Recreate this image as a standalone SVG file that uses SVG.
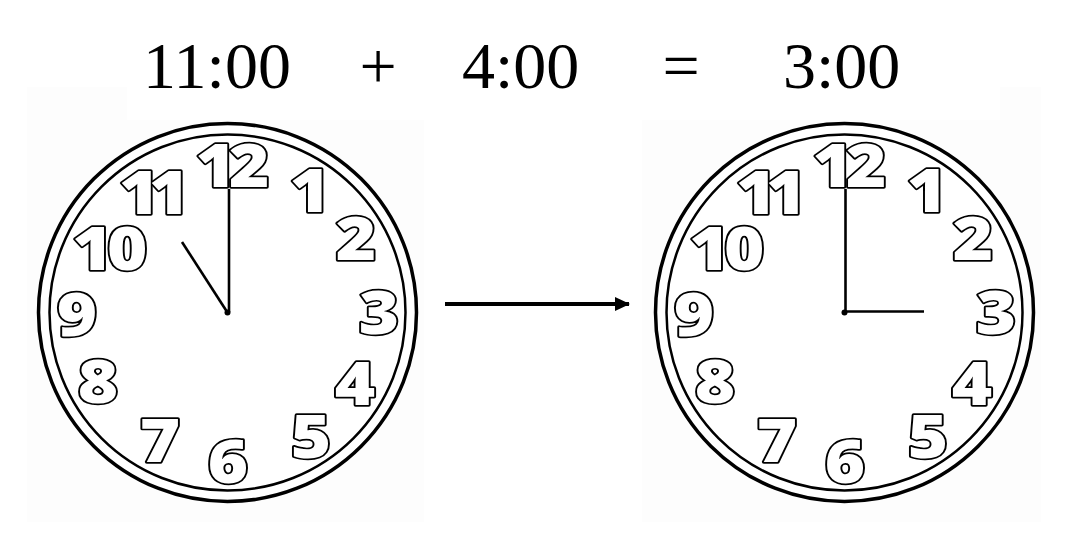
<svg xmlns="http://www.w3.org/2000/svg" width="1077" height="545" viewBox="0 0 1077 545">
<defs>
<style>
.title{font-family:"Liberation Serif","Times New Roman",serif;font-size:66px;fill:#000}
.num{font-family:"Open Sans",Lato,"DejaVu Sans",sans-serif;font-weight:800;font-size:60px;fill:#fff;stroke:#000;stroke-width:3.4;stroke-linejoin:round;paint-order:stroke;text-anchor:middle}
.outer{fill:#fff;stroke:#000;stroke-width:3.5}
.inner{fill:none;stroke:#000;stroke-width:2.5}
.hand{stroke:#000;stroke-width:2.6;stroke-linecap:butt}
.bg{fill:#fdfdfd}
</style>
<marker id="ah" markerUnits="userSpaceOnUse" markerWidth="16" markerHeight="16" refX="14" refY="7" orient="auto">
<polygon points="0,0 15,7 0,14" fill="#000"/>
</marker>
</defs>
<rect width="1077" height="545" fill="#fff"/>
<g id="title">
<text class="title" x="143" y="88">11:00</text>
<text class="title" x="378" y="88" text-anchor="middle">+</text>
<text class="title" x="462" y="88">4:00</text>
<text class="title" x="681" y="88" text-anchor="middle">=</text>
<text class="title" x="783" y="88">3:00</text>
</g>
<g id="clock-left">
<path class="bg" d="M27,87 H127 V120 H424 V522 H27 Z"/>
<circle class="outer" cx="227.5" cy="312.5" r="189"/>
<circle class="inner" cx="227.5" cy="312.5" r="178"/>
<g>
<text class="num" transform="translate(229,187) scale(1.15,1)" letter-spacing="-6">12</text>
<text class="num" transform="translate(310,212) scale(1.15,1)">1</text>
<text class="num" transform="translate(356,260) scale(1.15,1)">2</text>
<text class="num" transform="translate(379,334) scale(1.15,1)">3</text>
<text class="num" transform="translate(355,405) scale(1.15,1)">4</text>
<text class="num" transform="translate(311,458) scale(1.15,1)">5</text>
<text class="num" transform="translate(228,483) scale(1.15,1)">6</text>
<text class="num" transform="translate(160,462) scale(1.15,1)">7</text>
<text class="num" transform="translate(98,403) scale(1.15,1)">8</text>
<text class="num" transform="translate(77,336) scale(1.15,1)">9</text>
<text class="num" transform="translate(107,270) scale(1.15,1)" letter-spacing="-5">10</text>
<text class="num" transform="translate(149,214) scale(1.15,1)" letter-spacing="-9">11</text>
</g>
<line class="hand" x1="229" y1="312" x2="229" y2="189"/>
<line class="hand" x1="226.5" y1="311" x2="182" y2="242"/>
<circle cx="227.5" cy="312.5" r="3" fill="#000"/>
</g>
<g id="clock-right">
<path class="bg" d="M642,120 H1000 V87 H1041 V522 H642 Z"/>
<circle class="outer" cx="844.5" cy="312.5" r="189"/>
<circle class="inner" cx="844.5" cy="312.5" r="178"/>
<g>
<text class="num" transform="translate(846,187) scale(1.15,1)" letter-spacing="-6">12</text>
<text class="num" transform="translate(927,212) scale(1.15,1)">1</text>
<text class="num" transform="translate(973,260) scale(1.15,1)">2</text>
<text class="num" transform="translate(996,334) scale(1.15,1)">3</text>
<text class="num" transform="translate(972,405) scale(1.15,1)">4</text>
<text class="num" transform="translate(928,458) scale(1.15,1)">5</text>
<text class="num" transform="translate(845,483) scale(1.15,1)">6</text>
<text class="num" transform="translate(777,462) scale(1.15,1)">7</text>
<text class="num" transform="translate(715,403) scale(1.15,1)">8</text>
<text class="num" transform="translate(694,336) scale(1.15,1)">9</text>
<text class="num" transform="translate(724,270) scale(1.15,1)" letter-spacing="-5">10</text>
<text class="num" transform="translate(766,214) scale(1.15,1)" letter-spacing="-9">11</text>
</g>
<line class="hand" x1="845.5" y1="312" x2="845.5" y2="189"/>
<line class="hand" x1="844" y1="311.5" x2="924" y2="311.5"/>
<circle cx="844.5" cy="312.5" r="3" fill="#000"/>
</g>
<g id="connectors">
<line x1="445" y1="304" x2="629" y2="304" stroke="#000" stroke-width="4" marker-end="url(#ah)"/>
</g>
</svg>
